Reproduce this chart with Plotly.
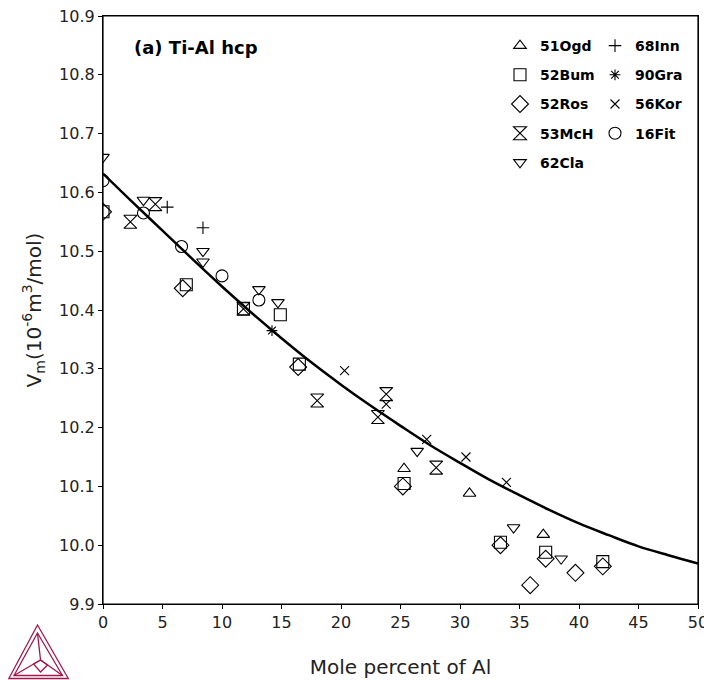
import plotly.graph_objects as go

# ---- data ----
curve_x = [0, 2.5, 5, 7.5, 10, 12.5, 15, 17.5, 20, 22.5, 25, 27.5, 30, 32.5, 35, 37.5, 40, 42.5, 45, 47.5, 50]
curve_y = [10.632, 10.583, 10.535, 10.487, 10.440, 10.395, 10.352, 10.311, 10.273, 10.237, 10.203,
           10.170, 10.140, 10.111, 10.085, 10.060, 10.037, 10.017, 9.998, 9.983, 9.969]

ogd51_x = [25.3, 30.8, 37.0]
ogd51_y = [10.13, 10.088, 10.018]

bum52_x = [0, 7.0, 11.8, 14.9, 16.5, 25.3, 33.4, 37.2, 42.0]
bum52_y = [10.567, 10.443, 10.402, 10.392, 10.308, 10.105, 10.005, 9.988, 9.972]

ros52_x = [0, 6.7, 16.4, 25.2, 33.4, 35.9, 37.2, 39.7, 42.0]
ros52_y = [10.567, 10.437, 10.303, 10.100, 10.000, 9.932, 9.977, 9.953, 9.964]

mch53_x = [2.3, 4.4, 11.8, 18.0, 23.1, 23.8, 28.0]
mch53_y = [10.550, 10.580, 10.402, 10.246, 10.218, 10.257, 10.132]

cla62_x = [0, 3.4, 8.4, 8.4, 13.1, 14.7, 26.4, 34.5, 38.5]
cla62_y = [10.660, 10.587, 10.500, 10.482, 10.435, 10.413, 10.160, 10.030, 9.977]

inn68_x = [5.4, 8.4]
inn68_y = [10.575, 10.540]

gra90_x = [14.2]
gra90_y = [10.365]

kor56_x = [20.3, 23.8, 27.2, 30.5, 33.9]
kor56_y = [10.297, 10.240, 10.180, 10.150, 10.107]

fit16_x = [0, 3.4, 6.6, 10.0, 13.1]
fit16_y = [10.620, 10.565, 10.508, 10.458, 10.417]

x_ticks = [0, 5, 10, 15, 20, 25, 30, 35, 40, 45, 50]
y_ticks = [9.9, 10.0, 10.1, 10.2, 10.3, 10.4, 10.5, 10.6, 10.7, 10.8, 10.9]

FONT = "DejaVu Sans"
# page body has an 8px margin; figure is sized so the plot area lands at window px 103..698 x 16..604
OFF = 8
W, H = 712 - OFF, 680 - OFF
L, R, T, B = 103 - OFF, 14, 16 - OFF, 76
PL, PB = 103, 604          # plot-area left / bottom in window pixels
pw = W - L - R
ph = H - T - B


def px2x(px):
    return (px - PL) / pw


def py2y(py):
    return (PB - py) / ph


fig = go.Figure()

fig.add_trace(go.Scatter(x=curve_x, y=curve_y, mode="lines", line=dict(color="black", width=2.5, shape="spline"),
                         showlegend=False, hoverinfo="skip"))

series = [
    ("51Ogd", ogd51_x, ogd51_y, "triangle-up-open", 11, "legend"),
    ("52Bum", bum52_x, bum52_y, "square-open", 12, "legend"),
    ("52Ros", ros52_x, ros52_y, "diamond-open", 13, "legend"),
    ("53McH", mch53_x, mch53_y, "hourglass-open", 13, "legend"),
    ("62Cla", cla62_x, cla62_y, "triangle-down-open", 11, "legend"),
    ("68Inn", inn68_x, inn68_y, "cross-thin-open", 9, "legend2"),
    ("90Gra", gra90_x, gra90_y, "asterisk-open", 9, "legend2"),
    ("56Kor", kor56_x, kor56_y, "x-thin-open", 9, "legend2"),
    ("16Fit", fit16_x, fit16_y, "circle-open", 12, "legend2"),
]
for name, xs, ys, sym, sz, lg in series:
    fig.add_trace(go.Scatter(x=xs, y=ys, mode="markers", name=name, legend=lg, legendgroup=name,
                             marker=dict(symbol=sym, size=sz, color="black",
                                         line=dict(color="black", width=1.1))))

legend_common = dict(font=dict(family=FONT, size=14, color="black", weight="bold"),
                     bgcolor="rgba(0,0,0,0)", tracegroupgap=8, yanchor="top", xanchor="left",
                     itemwidth=30)
fig.update_layout(
    legend=dict(x=px2x(500), y=py2y(30), **legend_common),
    legend2=dict(x=px2x(595), y=py2y(30), **legend_common),
)

axis_font = dict(family=FONT, size=16, color="#222")
fig.update_xaxes(range=[0, 50], tickvals=x_ticks, ticktext=[str(v) for v in x_ticks], automargin=False,
                 showgrid=False, zeroline=False, showline=True, linecolor="black", linewidth=1.2,
                 mirror=True, ticks="outside", ticklen=4, tickcolor="black", tickfont=axis_font,
                 ticklabeloverflow="allow",
                 title=dict(text="Mole percent of Al", font=dict(family=FONT, size=20, color="#222"), standoff=28))
fig.update_yaxes(range=[9.9, 10.9], tickvals=y_ticks, ticktext=[f"{v:.1f}" for v in y_ticks], automargin=False,
                 showgrid=False, zeroline=False, showline=True, linecolor="black", linewidth=1.2,
                 mirror=True, ticks="outside", ticklen=4, tickcolor="black", tickfont=axis_font,
                 ticklabeloverflow="allow",
                 title=dict(text="V<sub>m</sub>(10<sup>-6</sup>m<sup>3</sup>/mol)",
                            font=dict(family=FONT, size=20, color="#222"), standoff=12))

# plot frame
fig.add_shape(type="rect", xref="paper", yref="paper", x0=0, x1=1, y0=0, y1=1,
              line=dict(color="black", width=1.2), layer="above")

fig.add_annotation(text="<b>(a) Ti-Al hcp</b>", xref="paper", yref="paper",
                   x=px2x(132), y=py2y(47), xanchor="left", yanchor="middle",
                   showarrow=False, font=dict(family=FONT, size=18, color="black"))


# Logo (decorative triangle) in paper coordinates
def P(px, py):
    return f"{px2x(px):.4f},{py2y(py):.4f}"


logo_col = "#A3174B"
paths = [
    f"M{P(37.5,625)} L{P(8.8,678.5)} L{P(68.3,678.5)} Z",
    f"M{P(37.5,633)} L{P(14,675.5)} L{P(62.5,675.5)} Z",
    f"M{P(37.5,633)} L{P(40.5,660)} L{P(14,675.5)} M{P(40.5,660)} L{P(62.5,675.5)}",
    f"M{P(33.5,664)} L{P(40.5,660)} L{P(47.5,665)} L{P(40.5,672)} Z",
]
for pth in paths:
    fig.add_shape(type="path", path=pth, xref="paper", yref="paper",
                  line=dict(color=logo_col, width=1.3), layer="above")

fig.update_layout(width=W, height=H, margin=dict(l=L, r=R, t=T, b=B, autoexpand=False),
                  plot_bgcolor="white", paper_bgcolor="white",
                  font=dict(family=FONT))

fig.write_html("out.html")
